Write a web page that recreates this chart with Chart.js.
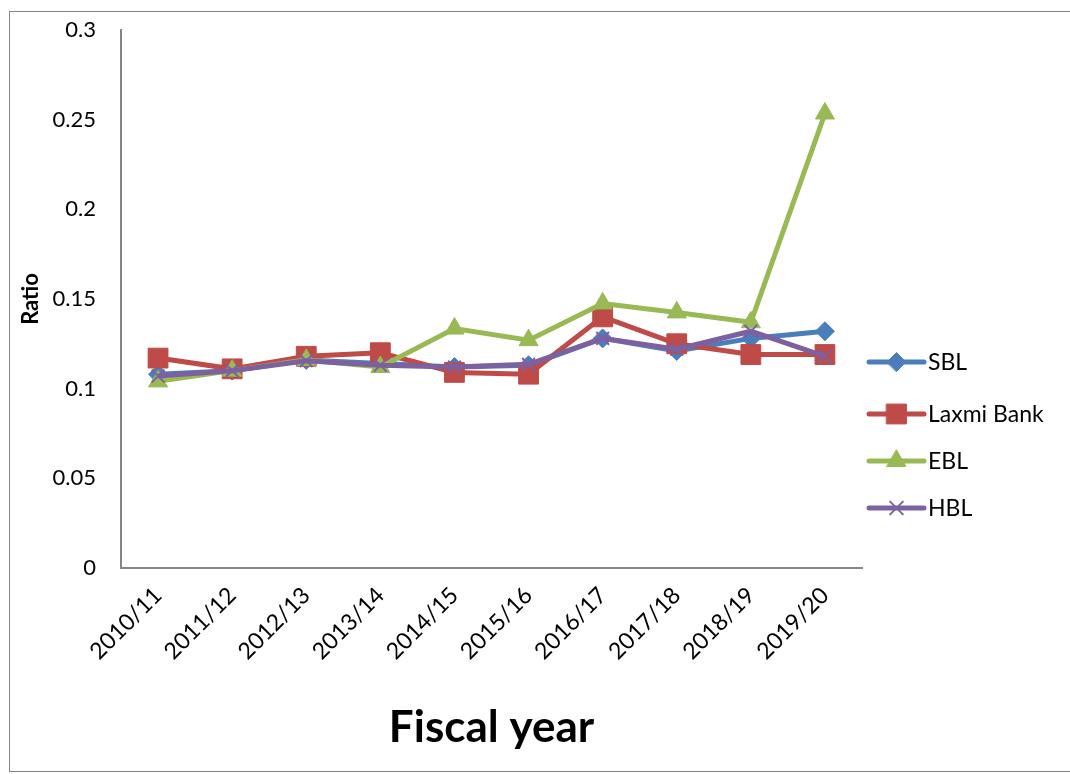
<!DOCTYPE html>
<html>
<head>
<meta charset="utf-8">
<script src="https://cdn.jsdelivr.net/npm/chart.js@4"></script>
<style>
  html, body { margin: 0; padding: 0; background: #fff; }
  body { width: 1070px; height: 774px; position: relative; overflow: hidden; }
  .frame { position: absolute; left: 9px; top: 11px; width: 1100px; height: 761px; border: 1px solid #868686; box-sizing: border-box; }
  #wrap { position: absolute; left: 0; top: 0; width: 1070px; height: 774px; }
</style>
</head>
<body>
<div class="frame"></div>
<div id="wrap"><canvas id="ratioChart"></canvas></div>
<script>
const ctx = document.getElementById('ratioChart').getContext('2d');

// fiscal years and ratio of each bank
const fiscalYears = ['2010/11', '2011/12', '2012/13', '2013/14', '2014/15', '2015/16', '2016/17', '2017/18', '2018/19', '2019/20'];
const sbl = [0.108, 0.110, 0.116, 0.114, 0.112, 0.113, 0.128, 0.121, 0.128, 0.132];
const laxmi = [0.117, 0.111, 0.118, 0.120, 0.109, 0.108, 0.140, 0.125, 0.119, 0.119];
const ebl = [0.104, 0.110, 0.116, 0.112, 0.1335, 0.127, 0.1475, 0.1425, 0.137, 0.2535];
const hbl = [0.107, 0.110, 0.1155, 0.113, 0.112, 0.1135, 0.128, 0.122, 0.132, 0.118];
const yTicks = [0, 0.05, 0.1, 0.15, 0.2, 0.25, 0.3];

const font = 'Lato';

function serie(label, data, color, style, radius, order, extra) {
    return Object.assign({
        label: label,
        data: data,
        borderColor: color,
        backgroundColor: color,
        borderWidth: 5,
        pointStyle: style,
        pointRadius: radius,
        pointHoverRadius: radius,
        pointBackgroundColor: color,
        pointBorderColor: color,
        pointBorderWidth: 1,
        tension: 0,
        order: order
    }, extra || {});
}

const datasets = [
    serie('SBL', sbl, '#4A7EBB', 'rectRot', 9.5, 3),
    serie('Laxmi Bank', laxmi, '#BE4B48', 'rect', 14, 2),
    serie('EBL', ebl, '#98B954', 'triangle', 11, 1),
    serie('HBL', hbl, '#7D60A0', 'crossRot', 9, 0, { pointBorderWidth: 2 })
];

// legend on the right: short line with marker, like the office chart
const sideLegend = {
    id: 'sideLegend',
    afterDraw(chart) {
        const c = chart.ctx;
        const x0 = 869, x1 = 924, rows = [362, 414, 461, 508];
        chart.data.datasets.forEach((ds, i) => {
            const y = rows[i];
            c.save();
            c.strokeStyle = ds.borderColor;
            c.lineWidth = 5;
            c.lineCap = 'round';
            c.beginPath();
            c.moveTo(x0, y);
            c.lineTo(x1, y);
            c.stroke();
            c.fillStyle = ds.pointBackgroundColor;
            c.strokeStyle = ds.pointBorderColor;
            c.lineWidth = ds.pointBorderWidth;
            Chart.helpers.drawPoint(c, { pointStyle: ds.pointStyle, radius: ds.pointRadius, borderWidth: ds.pointBorderWidth, rotation: 0 }, (x0 + x1) / 2, y);
            c.fillStyle = '#000';
            c.font = '23px ' + font;
            c.textBaseline = 'middle';
            c.fillText(ds.label, x1 + 4, y + 1);
            c.restore();
        });
    }
};

const config = {
    type: 'line',
    data: { labels: fiscalYears, datasets: datasets },
    options: {
        responsive: true,
        maintainAspectRatio: false,
        animation: false,
        layout: { padding: { left: 18, right: 208, top: 15, bottom: 16 } },
        plugins: {
            legend: { display: false },
            tooltip: { enabled: false }
        },
        scales: {
            x: {
                offset: true,
                grid: { display: false },
                border: { color: '#868686', width: 2 },
                ticks: { color: '#000', font: { family: font, size: 23 }, maxRotation: 45, minRotation: 45, padding: 6 },
                title: { display: true, text: 'Fiscal year', color: '#000', font: { family: font, size: 44, weight: 'bold' }, padding: { top: 30 } }
            },
            y: {
                min: 0,
                max: 0.3,
                grid: { display: false },
                border: { color: '#868686', width: 2 },
                afterBuildTicks: scale => { scale.ticks = yTicks.map(v => ({ value: v })); },
                afterFit: scale => { scale.width = 121 - 18; },
                ticks: {
                    color: '#000',
                    font: { family: font, size: 22 },
                    padding: 17,
                    callback: v => String(Math.round(v * 100) / 100)
                },
                title: { display: true, text: 'Ratio', color: '#000', font: { family: font, size: 22, weight: 'bold' }, padding: 0 }
            }
        }
    },
    plugins: [sideLegend]
};

const ratioChart = new Chart(ctx, config);
</script>
</body>
</html>
